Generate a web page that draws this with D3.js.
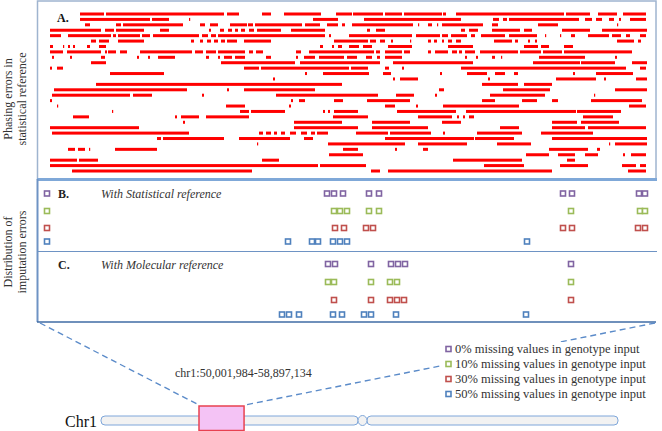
<!DOCTYPE html>
<html><head><meta charset="utf-8">
<script src="https://cdn.jsdelivr.net/npm/d3@7"></script>
<style>body{margin:0;background:#fff} svg{display:block}</style>
</head><body>
<svg id="c" width="662" height="431"></svg>
<script>
// Phasing errors: 30 haplotype rows, segments in ~14.8 kb bins (0-600) across chr1:50,001,984-58,897,134
const phasingRows = [
 [[32,56],[58,176],[179,191],[214,223],[236,273],[288,304],[305,335],[337,354],[356,394],[395,398],[408,516],[518,542],[550,569],[575,598]],
 [[32,102],[104,121],[141,142],[265,290],[316,413],[445,451],[455,459],[461,531],[537,544],[548,554],[561,566],[571,573],[582,598]],
 [[37,42],[68,73],[75,135],[152,157],[162,170],[182,199],[200,205],[207,254],[257,272],[279,290],[294,297],[304,365],[370,371],[380,384],[389,390],[394,435],[444,450],[490,510],[569,570]],
 [[2,53],[57,66],[68,96],[112,121],[161,163],[172,176],[180,184],[187,190],[193,197],[201,206],[209,233],[243,277],[319,322],[328,337],[413,417],[421,430],[444,472],[476,484],[514,542],[554,599]],
 [[2,13],[20,63],[65,68],[70,92],[94,102],[105,151],[154,160],[163,168],[170,277],[281,283],[301,364],[368,392],[394,400],[403,419],[423,427],[433,457],[461,489],[497,498],[512,513],[523,527],[540,561],[564,573],[578,582],[592,598]],
 [[43,48],[51,61],[70,96],[143,146],[152,155],[159,163],[166,170],[173,177],[179,189],[196,223],[286,320],[322,328],[332,337],[343,345],[362,363],[380,383],[386,389],[394,396],[400,404],[408,413],[446,464],[467,470],[480,482],[487,489],[569,586],[590,593]],
 [[2,5],[15,16],[20,22],[25,27],[39,42],[51,58],[272,275],[284,286],[290,294],[301,311],[315,324],[340,364],[400,425],[476,490],[493,501],[516,525]],
 [[2,15],[19,53],[57,59],[60,68],[72,79],[92,144],[147,155],[158,168],[170,197],[201,205],[208,215],[248,253],[261,326],[328,332],[337,354],[356,362],[380,383],[387,400],[404,409],[411,414],[417,427],[432,470],[472,493],[495,514],[516,584]],
 [[4,6],[22,24],[53,57],[89,91],[100,102],[110,127],[158,161],[170,172],[176,184],[187,197],[218,223],[248,250],[256,267],[271,296],[299,309],[318,324],[329,332],[337,354],[417,419],[428,430],[444,447],[453,454],[491,537],[567,569]],
 [[43,58],[173,247],[252,332],[345,425],[485,532],[533,567],[584,599]],
 [[2,4],[9,15],[196,211],[213,301],[303,320],[337,341],[354,356],[413,578],[592,598]],
 [[62,116],[257,259],[275,321],[335,343],[392,394],[419,439],[447,457],[466,470],[525,527],[548,585]],
 [[225,227],[345,347],[352,370],[440,442],[508,548],[556,558],[588,599]],
 [[48,294],[434,470],[476,504]],
 [[6,139],[179,181],[196,267],[391,396],[455,502],[567,599]],
 [[4,82],[85,104],[154,156],[228,330],[348,366],[387,389],[442,497],[546,547]],
 [[2,4],[243,245],[251,257],[286,295],[319,362],[434,447],[474,489],[504,510],[543,594]],
 [[9,10],[178,197],[241,243],[337,347],[368,370],[395,471],[581,598]],
 [[64,65],[192,201],[203,237],[275,277],[280,282],[286,310],[349,408],[418,528],[529,573]],
 [[25,41],[127,129],[133,151],[158,201],[285,320],[370,404],[409,411],[415,417],[421,426],[535,565]],
 [[135,137],[246,294],[324,362],[394,413],[504,529],[533,571]],
 [[2,91],[246,310],[324,380],[452,471],[504,537],[540,598]],
 [[4,141],[211,215],[218,223],[226,229],[233,237],[242,248],[253,259],[263,267],[269,280],[308,340],[342,383],[395,397],[429,474],[493,545]],
 [[109,113],[115,176],[191,242],[256,265],[337,426],[427,466],[504,599]],
 [[209,210],[280,357],[370,419],[449,483],[561,562],[567,599]],
 [[20,27],[30,37],[41,42],[67,109],[295,310],[347,349],[375,380],[501,540],[549,552]],
 [[281,315],[478,501],[510,527],[537,550],[575,577],[583,598]],
 [[2,29],[31,50],[214,231],[405,474],[519,527]],
 [[2,270],[272,318],[436,476],[512,540],[574,588],[592,598]],
 [[24,204],[323,332],[340,504],[580,598]]
];

// Imputation errors (bin positions), by % missing values in genotype input
const levels = ["0%", "10%", "30%", "50%"];
const levelColors = ["#8064A2", "#9BBB59", "#C0504D", "#4F81BD"];
const statistical0  = [279,286,295,321,331,515,524,591,597];
const statistical10 = [286,292,299,321,331,523,592,597];
const statistical30 = [287,296,318,325,515,524,590,597];
const statistical50 = [240,264,270,285,292,299,479];
const molecular0  = [280,287,323,343,350,357,523];
const molecular10 = [280,286,323,342,349,523];
const molecular30 = [286,323,342,349,356,523];
const molecular50 = [234,241,251,285,294,316,323,348,478];

const legendLabels = levels.map(l => l + " missing values in genotype input");
const regionLabel = "chr1:50,001,984-58,897,134";
const chromName = "Chr1";
const chromLengthMb = 249;
const centromereMb = [123.8, 128.1];
const highlightMb = [47.2, 68.9];

const svg = d3.select("#c");
const serif = "'Liberation Serif','Times New Roman',serif";

const x = d3.scaleLinear().domain([0, 600]).range([48, 648]);
const yA = d3.scalePoint().domain(d3.range(phasingRows.length)).range([14, 171]);
const yB = d3.scaleOrdinal().domain(levels).range([193.5, 211, 228, 241.5]);
const yC = d3.scaleOrdinal().domain(levels).range([264, 282, 300, 314.5]);
const color = d3.scaleOrdinal().domain(levels).range(levelColors);

// Frames
svg.append("rect").attr("x", 37.5).attr("y", 1).attr("width", 618.5).attr("height", 178)
  .attr("fill", "none").attr("stroke", "#9FB4CF").attr("stroke-width", 1.5);
svg.append("line").attr("x1", 37).attr("x2", 657).attr("y1", 179.5).attr("y2", 179.5)
  .attr("stroke", "#7FA8D8").attr("stroke-width", 3);
svg.append("line").attr("x1", 37.5).attr("x2", 37.5).attr("y1", 179).attr("y2", 322)
  .attr("stroke", "#6E93C4").attr("stroke-width", 2);
svg.append("line").attr("x1", 37).attr("x2", 657).attr("y1", 251.5).attr("y2", 251.5)
  .attr("stroke", "#6E93C4").attr("stroke-width", 1);
svg.append("line").attr("x1", 37).attr("x2", 656).attr("y1", 322).attr("y2", 322)
  .attr("stroke", "#3F6BA5").attr("stroke-width", 1.5);

// Panel A segments
const gA = svg.append("g");
phasingRows.forEach((segs, i) => {
  gA.selectAll(null).data(segs).join("rect")
    .attr("x", d => x(d[0]))
    .attr("width", d => Math.max(1.2, x(d[1]) - x(d[0])))
    .attr("y", yA(i) - 1.5).attr("height", 3)
    .attr("fill", "#FF0000");
});

// Panel B/C squares
function drawSquares(arr, lvl, yScale) {
  svg.append("g").selectAll("rect").data(arr).join("rect")
    .attr("x", d => x(d) - 2.5).attr("y", yScale(lvl) - 2.5)
    .attr("width", 5).attr("height", 5)
    .attr("fill", "#fff").attr("stroke", color(lvl)).attr("stroke-width", 1.6);
}
[statistical0, statistical10, statistical30, statistical50].forEach((a, i) => drawSquares(a, levels[i], yB));
[molecular0, molecular10, molecular30, molecular50].forEach((a, i) => drawSquares(a, levels[i], yC));

// small key squares at left of panel B
svg.append("g").selectAll("rect").data(levels).join("rect")
  .attr("x", 44.5).attr("y", d => yB(d) - 2.5).attr("width", 5).attr("height", 5)
  .attr("fill", "#fff").attr("stroke", d => color(d)).attr("stroke-width", 1.6);

// Panel labels
svg.append("text").attr("x", 57).attr("y", 22).text("A.")
  .attr("font-family", serif).attr("font-weight", "bold").attr("font-size", 12).attr("fill", "#111");
svg.append("text").attr("x", 58).attr("y", 198).text("B.")
  .attr("font-family", serif).attr("font-weight", "bold").attr("font-size", 12).attr("fill", "#222");
svg.append("text").attr("x", 58).attr("y", 269).text("C.")
  .attr("font-family", serif).attr("font-weight", "bold").attr("font-size", 12).attr("fill", "#222");
svg.append("text").attr("x", 101).attr("y", 198).text("With Statistical reference")
  .attr("font-family", serif).attr("font-style", "italic").attr("font-size", 12).attr("fill", "#333");
svg.append("text").attr("x", 101).attr("y", 269).text("With Molecular reference")
  .attr("font-family", serif).attr("font-style", "italic").attr("font-size", 12).attr("fill", "#333");

// Rotated axis titles
function vtext(xx, yy, t) {
  svg.append("text").attr("transform", `translate(${xx},${yy}) rotate(-90)`)
    .attr("text-anchor", "middle").text(t)
    .attr("font-family", serif).attr("font-size", 12).attr("fill", "#333");
}
vtext(12, 99, "Phasing errors in");
vtext(26, 99, "statistical reference");
vtext(12, 252, "Distribution of");
vtext(26, 252, "imputation errors");

// Chromosome
const xc = d3.scaleLinear().domain([0, chromLengthMb]).range([101, 618]);
const cy = 416, ch = 9;

// Dashed zoom lines
const dash = svg.append("g").attr("stroke", "#5B8BC9").attr("stroke-width", 1.4)
  .attr("stroke-dasharray", "6,4").attr("fill", "none");
dash.append("line").attr("x1", 40).attr("y1", 323).attr("x2", xc(highlightMb[0])).attr("y2", 405);
dash.append("line").attr("x1", 655).attr("y1", 323).attr("x2", xc(highlightMb[1]) + 1).attr("y2", 405);

const gc = svg.append("g").attr("fill", "#F2F2F2").attr("stroke", "#7EA6DA").attr("stroke-width", 1);
gc.append("rect").attr("x", xc(0)).attr("y", cy).attr("width", xc(centromereMb[0]) - xc(0)).attr("height", ch).attr("rx", 4);
gc.append("rect").attr("x", xc(centromereMb[1])).attr("y", cy).attr("width", xc(chromLengthMb) - xc(centromereMb[1])).attr("height", ch).attr("rx", 4);
gc.append("ellipse").attr("cx", (xc(centromereMb[0]) + xc(centromereMb[1])) / 2).attr("cy", cy + ch / 2)
  .attr("rx", (xc(centromereMb[1]) - xc(centromereMb[0])) / 2).attr("ry", ch / 2 + 0.5);

svg.append("rect").attr("x", xc(highlightMb[0])).attr("y", 406)
  .attr("width", xc(highlightMb[1]) - xc(highlightMb[0])).attr("height", 24.5)
  .attr("fill", "#F4C3F5").attr("stroke", "#E84150").attr("stroke-width", 1.5);

svg.append("text").attr("x", 65).attr("y", 427).text(chromName)
  .attr("font-family", serif).attr("font-size", 16).attr("fill", "#111");
svg.append("text").attr("x", 175).attr("y", 377).text(regionLabel)
  .attr("font-family", serif).attr("font-size", 12).attr("fill", "#333");

// Legend (white box covers the dashed line behind it)
const lg = svg.append("g");
lg.append("rect").attr("x", 442).attr("y", 342).attr("width", 210).attr("height", 58).attr("fill", "#fff");
const ly = d3.scalePoint().domain(levels).range([349, 394]);
lg.selectAll("rect.k").data(levels).join("rect").attr("class", "k")
  .attr("x", 446).attr("y", d => ly(d) - 2.5).attr("width", 5).attr("height", 5)
  .attr("fill", "#fff").attr("stroke", d => color(d)).attr("stroke-width", 1.6);
lg.selectAll("text").data(legendLabels).join("text")
  .attr("x", 455).attr("y", (d, i) => ly(levels[i]) + 4).text(d => d)
  .attr("font-family", serif).attr("font-size", 12.5).attr("fill", "#333");
</script>
</body></html>
